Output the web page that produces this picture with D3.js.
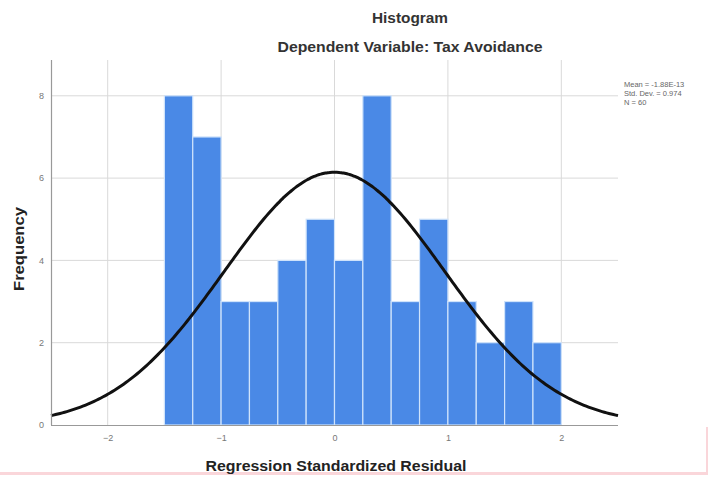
<!DOCTYPE html>
<html><head><meta charset="utf-8">
<script src="https://cdn.jsdelivr.net/npm/d3@7/dist/d3.min.js"></script>
<style>body{margin:0;background:#fff}svg{display:block}</style>
</head><body>
<svg id="c" width="711" height="478"></svg>
<script>
// Data
const binStarts = [-1.5,-1.25,-1.0,-0.75,-0.5,-0.25,0,0.25,0.5,0.75,1.0,1.25,1.5,1.75];
const counts    = [8,7,3,3,4,5,4,8,3,5,3,2,3,2];
const binWidth = 0.25;
const xTicks = [-2,-1,0,1,2];
const yTicks = [0,2,4,6,8];
const stats = {mean: -1.88e-13, sd: 0.974, n: 60};
const legendLines = ["Mean = -1.88E-13", "Std. Dev. = 0.974", "N = 60"];

const svg = d3.select("#c");
const L = 51, R = 618, T = 60, B = 425;
const x = d3.scaleLinear().domain([-2.5, 2.5]).range([L, R]);
const y = d3.scaleLinear().domain([0, 8.87]).range([B, T]);

// faint pink artifacts at bottom
svg.append("rect").attr("x",0).attr("y",472).attr("width",708).attr("height",3).attr("fill","#fad6da");
svg.append("rect").attr("x",706).attr("y",427).attr("width",2).attr("height",48).attr("fill","#fad6da");

// gridlines
const g = svg.append("g");
g.selectAll(".gy").data(yTicks.filter(d=>d>0)).enter().append("line")
  .attr("x1",L).attr("x2",R).attr("y1",d=>y(d)).attr("y2",d=>y(d))
  .attr("stroke","#d9d9d9").attr("stroke-width",1);
g.selectAll(".gx").data(xTicks).enter().append("line")
  .attr("x1",d=>x(d)).attr("x2",d=>x(d)).attr("y1",T).attr("y2",B)
  .attr("stroke","#d9d9d9").attr("stroke-width",1);

// bars
svg.append("g").selectAll("rect").data(binStarts).enter().append("rect")
  .attr("x",(d)=>x(d)).attr("width",d=>x(d+binWidth)-x(d))
  .attr("y",(d,i)=>y(counts[i])).attr("height",(d,i)=>B-y(counts[i]))
  .attr("fill","#4a89e6").attr("stroke","#cfe3fb").attr("stroke-width",1.2);

// normal curve (from the legend's mean, sd and N)
const pts = d3.range(-2.5, 2.5001, 0.02).map(v => [v,
  stats.n*binWidth*Math.exp(-0.5*Math.pow((v-stats.mean)/stats.sd,2))/(stats.sd*Math.sqrt(2*Math.PI))]);
svg.append("path").datum(pts)
  .attr("d", d3.line().x(d=>x(d[0])).y(d=>y(d[1])).curve(d3.curveBasis))
  .attr("fill","none").attr("stroke","#111").attr("stroke-width",3);

// axes
const xa = svg.append("g").attr("transform",`translate(0,${B})`)
  .call(d3.axisBottom(x).tickValues(xTicks).tickSize(0).tickPadding(10).tickFormat(d3.format("d")));
const ya = svg.append("g").attr("transform",`translate(${L},0)`)
  .call(d3.axisLeft(y).tickValues(yTicks).tickSize(0).tickPadding(7).tickFormat(d3.format("d")));
[xa,ya].forEach(a=>{
  a.select(".domain").attr("stroke","#999").attr("stroke-width",1.2);
  a.selectAll("text").attr("fill","#777").style("font-family","Liberation Sans, Arial, sans-serif").style("font-size","9px");
});
xa.select(".domain").attr("d",`M${L},0.5H${R}`);
ya.select(".domain").attr("d",`M0.5,${B}V${T}`);

// titles
const f = "Liberation Sans, Arial, sans-serif";
function title(t, cx, cy, len, col, rot) {
  const el = svg.append("text").attr("text-anchor","middle")
    .style("font-family",f).style("font-size","14px").style("font-weight","bold").attr("fill",col)
    .attr("textLength",len).attr("lengthAdjust","spacingAndGlyphs").text(t);
  if (rot) el.attr("transform",`translate(${cx},${cy}) rotate(-90)`);
  else el.attr("x",cx).attr("y",cy);
}
title("Histogram", 410, 23, 76, "#333");
title("Dependent Variable: Tax Avoidance", 410, 52, 265, "#333");
title("Regression Standardized Residual", 336, 471, 261, "#222");
title("Frequency", 24, 249, 84, "#222", true);

// legend
svg.append("g").selectAll("text").data(legendLines).enter().append("text")
  .attr("x",624).attr("y",(d,i)=>87+i*9)
  .style("font-family",f).style("font-size","7.5px").attr("fill","#666").text(d=>d);
</script>
</body></html>
